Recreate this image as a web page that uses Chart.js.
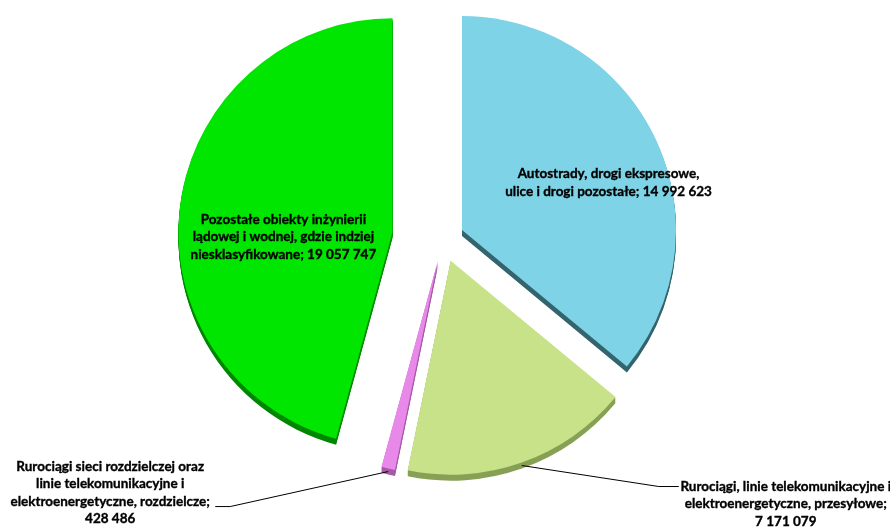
<!DOCTYPE html>
<html>
<head>
<meta charset="utf-8">
<script src="https://cdn.jsdelivr.net/npm/chart.js@4.4.1/dist/chart.umd.min.js"></script>
<style>
  html, body { margin: 0; padding: 0; background: #ffffff; }
  #wrap { width: 890px; height: 532px; position: relative; }
</style>
</head>
<body>
<div id="wrap"><canvas id="c"></canvas></div>
<script>
// ---- data ----
const categories = [
  ['Autostrady, drogi ekspresowe,', 'ulice i drogi pozostałe'],
  ['Rurociągi, linie telekomunikacyjne i', 'elektroenergetyczne, przesyłowe'],
  ['Rurociągi sieci rozdzielczej oraz', 'linie telekomunikacyjne i', 'elektroenergetyczne, rozdzielcze'],
  ['Pozostałe obiekty inżynierii', 'lądowej i wodnej, gdzie indziej', 'niesklasyfikowane']
];
const values = [14992623, 7171079, 428486, 19057747];
const valueOnOwnLine = [false, true, true, false];

// ---- style ----
const topColors  = ['rgb(126,212,230)', 'rgb(200,226,138)', 'rgb(232,136,232)', 'rgb(0,230,0)'];
const sideColors = ['rgb(52,100,110)',  'rgb(135,160,85)',  'rgb(165,90,165)',  'rgb(0,135,0)'];
const explodeDist = [21, 23, 22, 51];
const depth = 6;
const FONT = 'bold 13.5px Lato, "Open Sans", sans-serif';
const LINE_H = 17.5;
const labelPlacement = [
  { inside: true, ang: -18, dist: 0.72 },
  { inside: false, elbow: [137, 21], tail: 20, textDx: 107, firstLineDy: 0 },
  { inside: false, elbow: [-158, 35], tail: -15, textDx: -105, firstLineDy: -40 },
  { inside: true, ang: 177.5, dist: 0.51 }
];

function fmt(v) { return String(v).replace(/\B(?=(\d{3})+(?!\d))/g, ' '); }
function labelLines(i) {
  const lines = categories[i].slice();
  const last = lines.length - 1;
  if (valueOnOwnLine[i]) { lines[last] = lines[last] + ';'; lines.push(fmt(values[i])); }
  else { lines[last] = lines[last] + '; ' + fmt(values[i]); }
  return lines;
}

function arcGeom(arc, i) {
  const p = arc.getProps(['x', 'y', 'startAngle', 'endAngle', 'outerRadius'], true);
  const mid = (p.startAngle + p.endAngle) / 2;
  const d = explodeDist[i];
  return { cx: p.x + Math.cos(mid) * d, cy: p.y + Math.sin(mid) * d, s: p.startAngle, e: p.endAngle, r: p.outerRadius, mid };
}

function slicePath(ctx, g, dy) {
  ctx.beginPath();
  ctx.moveTo(g.cx, g.cy + dy);
  ctx.arc(g.cx, g.cy + dy, g.r, g.s, g.e);
  ctx.closePath();
}

const explodedPie = {
  id: 'explodedPie',
  beforeDatasetsDraw(chart) {
    const ctx = chart.ctx;
    const meta = chart.getDatasetMeta(0);
    ctx.save();
    meta.data.forEach((arc, i) => {
      const g = arcGeom(arc, i);
      ctx.fillStyle = sideColors[i];
      for (let k = depth; k >= 1; k--) { slicePath(ctx, g, k); ctx.fill(); }
      ctx.fillStyle = topColors[i];
      slicePath(ctx, g, 0); ctx.fill();
    });
    ctx.restore();
    return false;
  },
  afterDraw(chart) {
    const ctx = chart.ctx;
    const meta = chart.getDatasetMeta(0);
    ctx.save();
    ctx.font = FONT;
    ctx.fillStyle = '#000';
    ctx.textAlign = 'center';
    ctx.textBaseline = 'middle';
    const put = (t, x, y) => {
      ctx.lineWidth = 0.35; ctx.strokeStyle = '#000';
      ctx.strokeText(t, x, y);
      ctx.fillText(t, x, y);
    };
    meta.data.forEach((arc, i) => {
      const g = arcGeom(arc, i);
      const pl = labelPlacement[i];
      const lines = labelLines(i);
      if (pl.inside) {
        const a = pl.ang * Math.PI / 180;
        const tx = g.cx + Math.cos(a) * g.r * pl.dist;
        const ty = g.cy + Math.sin(a) * g.r * pl.dist;
        const y0 = ty - (lines.length - 1) * LINE_H / 2;
        lines.forEach((t, j) => put(t, tx, y0 + j * LINE_H));
      } else {
        const sx = g.cx + Math.cos(g.mid) * g.r;
        const sy = g.cy + Math.sin(g.mid) * g.r + depth / 2;
        const ex = sx + pl.elbow[0], ey = sy + pl.elbow[1];
        const fx = ex + pl.tail;
        ctx.beginPath();
        ctx.strokeStyle = '#000';
        ctx.lineWidth = 1;
        ctx.moveTo(sx, sy); ctx.lineTo(ex, ey); ctx.lineTo(fx, ey);
        ctx.stroke();
        const tx = fx + pl.textDx;
        const y0 = ey + pl.firstLineDy;
        lines.forEach((t, j) => put(t, tx, y0 + j * LINE_H));
      }
    });
    ctx.restore();
  }
};

new Chart(document.getElementById('c'), {
  type: 'pie',
  data: {
    labels: categories.map(c => c.join(' ')),
    datasets: [{
      data: values,
      backgroundColor: topColors,
      borderWidth: 0,
      radius: 214
    }]
  },
  options: {
    responsive: true,
    maintainAspectRatio: false,
    animation: false,
    layout: { padding: { left: 0, right: 4, top: 0, bottom: 54 } },
    plugins: { legend: { display: false }, tooltip: { enabled: false } },
    events: []
  },
  plugins: [explodedPie]
});
</script>
</body>
</html>
